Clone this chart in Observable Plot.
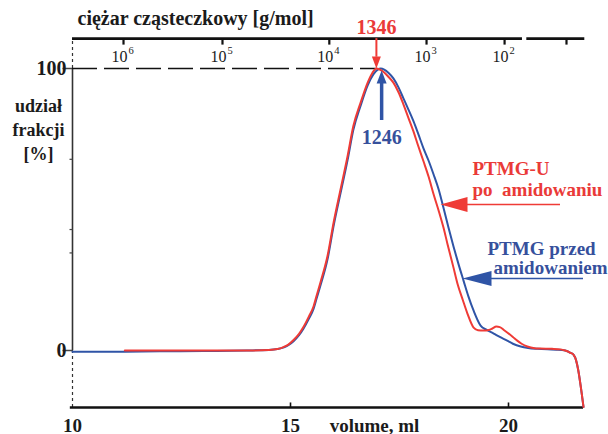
<!DOCTYPE html>
<html><head><meta charset="utf-8">
<script src="https://cdn.jsdelivr.net/npm/d3@7"></script>
<script src="https://cdn.jsdelivr.net/npm/@observablehq/plot@0.6"></script>
<style>body{margin:0;background:#fff}</style>
</head><body><div id="chart"></div>
<script>
// --- data ---
const blueVol = [10, 11.2, 12, 13, 14, 14.5, 14.7, 14.85, 14.95, 15.07, 15.2, 15.3, 15.42, 15.53, 15.6, 15.69, 15.85, 15.99, 16.15, 16.31, 16.44, 16.61, 16.77, 16.9, 17.0, 17.07, 17.15, 17.25, 17.36, 17.48, 17.59, 17.7, 17.82, 17.93, 18.05, 18.17, 18.28, 18.4, 18.51, 18.62, 18.74, 18.85, 18.97, 19.08, 19.2, 19.36, 19.5, 19.66, 19.8, 19.97, 20.1, 20.28, 20.45, 20.66, 20.9, 21.1, 21.3, 21.42, 21.49, 21.55, 21.6, 21.65, 21.69, 21.72];
const blueVal = [-0.4, -0.4, -0.3, -0.2, 0, 0.2, 0.5, 1.1, 1.9, 3.3, 5.5, 7.8, 11.2, 14.8, 18.5, 23.2, 32.4, 44.3, 56, 67.6, 78.2, 86.9, 94, 97.9, 99.6, 100, 99.6, 98.4, 96.5, 93.2, 89.4, 85.6, 81.3, 76.8, 71.7, 67.2, 62.5, 57, 50.5, 43.8, 36.8, 30.8, 24.7, 19.2, 14.1, 8.8, 7.3, 6.0, 4.8, 3.5, 2.4, 1.4, 0.9, 0.6, 0.4, 0.3, 0, -0.8, -1.5, -3.5, -7, -12, -16.5, -20];
const redVol = [11.2, 12, 13, 14, 14.5, 14.7, 14.85, 14.95, 15.07, 15.2, 15.3, 15.42, 15.53, 15.6, 15.69, 15.85, 15.99, 16.15, 16.31, 16.44, 16.61, 16.77, 16.88, 16.97, 17.05, 17.15, 17.25, 17.36, 17.48, 17.59, 17.7, 17.82, 17.93, 18.05, 18.17, 18.28, 18.4, 18.51, 18.6, 18.74, 18.83, 18.95, 19.06, 19.2, 19.3, 19.43, 19.55, 19.63, 19.72, 19.8, 19.9, 19.97, 20.1, 20.2, 20.3, 20.43, 20.6, 20.73, 21.0, 21.19, 21.3, 21.42, 21.49, 21.55, 21.6, 21.65, 21.69, 21.72];
const redVal = [0, 0, 0, 0, 0.2, 0.5, 1.3, 2.1, 3.7, 6, 8.4, 12, 15.7, 19.5, 24.3, 33.6, 45.5, 57.3, 69, 79.5, 88, 95, 98.5, 100, 99.6, 98.6, 97, 95, 91.5, 87.3, 82.7, 77.7, 72.5, 67.1, 61.5, 55.5, 49.5, 43.5, 37.8, 29.3, 23.7, 18, 13, 8.1, 7.2, 7.1, 7.3, 7.8, 8.5, 8.3, 7.2, 6.4, 4.8, 3.5, 2.4, 1.4, 0.8, 0.7, 0.6, 0.4, 0, -0.8, -1.5, -3.5, -7, -12, -16.5, -20];

const volumeTicks = [10, 15, 20];
const volumeLabels = ["10", "15", "20"];
const mwTickVol = [11.17, 13.44, 15.89, 18.12, 19.91, 21.33];
const mwLabelBase = ["10", "10", "10", "10", "10"];
const mwLabelExp = ["6", "5", "4", "3", "2"];
const yMajor = [0, 100];
const yMajorLabels = ["0", "100"];
const yMinor = [67.8, 42.9, 34.6];
const yTitle = ["udział", "frakcji", "[%]"];
const peakRed = {vol: 16.97, label: "1346"};
const peakBlue = {vol: 17.09, label: "1246"};
const seriesRed = ["PTMG-U", "po  amidowaniu"];
const seriesBlue = ["PTMG przed", "amidowaniem"];

// --- layout constants (frame) ---
const xMin = 10, xMax = 21.72, yTop = 110.6, yBot = -20.2;
const RED = "#ef3b36", BLUE = "#2f54a6", RED_T = "#ea3a38", BLUE_T = "#36509c", INK = "#1b1b1b";

const blue = blueVol.map((v, i) => ({v, y: blueVal[i]}));
const red = redVol.map((v, i) => ({v, y: redVal[i]}));

// custom symbols
const seg = (x1, y1, x2, y2) => ({draw(c) { c.moveTo(x1, y1); c.lineTo(x2, y2); }});
const headLeft = (len, hw) => ({draw(c) { c.moveTo(0, 0); c.lineTo(len, -hw); c.lineTo(len, hw); c.closePath(); }});
const headDown = (len, hw) => ({draw(c) { c.moveTo(0, 0); c.lineTo(-hw, -len); c.lineTo(hw, -len); c.closePath(); }});
const headUp = (len, hw) => ({draw(c) { c.moveTo(0, 0); c.lineTo(-hw, len); c.lineTo(hw, len); c.closePath(); }});

const px2v = (px) => xMin + (px - 72) / ((583 - 72) / (xMax - xMin));
const py2v = (py) => (350 - py) / 2.82;

const T = {fontFamily: "Liberation Serif", fontWeight: "bold"};

const chart = Plot.plot({
  width: 608,
  height: 434,
  x: {domain: [xMin, xMax], range: [72, 583], axis: null},
  y: {domain: [0, 100], range: [350, 68], axis: null},
  style: {fontFamily: "Liberation Serif", background: "white", overflow: "visible"},
  marks: [
    // frame / axes
    Plot.ruleX([xMin], {y1: 0, y2: 100, stroke: "#333", strokeWidth: 1.6}),
    Plot.ruleX([xMin], {y1: 100, y2: yTop, stroke: "#333", strokeWidth: 1.2, strokeDasharray: "3,3"}),
    Plot.ruleX([xMin], {y1: yBot, y2: 0, stroke: "#333", strokeWidth: 1.2, strokeDasharray: "3,3"}),
    Plot.ruleY([yBot], {x1: xMin - 0.05, x2: xMax, stroke: "#111", strokeWidth: 2.6}),
    Plot.ruleY([yTop], {x1: xMin, x2: 20.32, stroke: "#111", strokeWidth: 2.6}),
    Plot.ruleY([yTop], {x1: 20.42, x2: xMax + 0.03, stroke: "#111", strokeWidth: 2.6}),
    Plot.dot(volumeTicks.slice(1), {x: d => d, y: yBot, symbol: seg(0, 0, 0, -5), stroke: "#111", strokeWidth: 1.6, fill: "none"}),
    Plot.dot(mwTickVol, {x: d => d, y: yTop, symbol: seg(0, 0, 0, 6), stroke: "#111", strokeWidth: 2.2, fill: "none"}),
    Plot.dot(yMajor, {x: xMin, y: d => d, symbol: seg(0, 0, -10, 0), stroke: "#444", strokeWidth: 1.5, fill: "none"}),
    Plot.dot(yMinor, {x: xMin, y: d => d, symbol: seg(0, 0, -3, 0), stroke: "#444", strokeWidth: 1.2, fill: "none"}),
    // dashed 100% reference
    Plot.ruleY([100], {x1: xMin, x2: peakRed.vol, stroke: "#111", strokeWidth: 1.5, strokeDasharray: "25,7"}),

    // curves
    Plot.line(blue, {x: "v", y: "y", stroke: BLUE, strokeWidth: 2, curve: "monotone-x"}),
    Plot.line(red, {x: "v", y: "y", stroke: RED, strokeWidth: 2, curve: "monotone-x"}),

    // peak arrows
    Plot.ruleX([peakRed.vol], {y1: yTop, y2: 104, stroke: RED, strokeWidth: 2}),
    Plot.dot([peakRed], {x: "vol", y: 100, symbol: headDown(12, 4.5), fill: RED, stroke: "none"}),
    Plot.text([peakRed], {x: "vol", y: py2v(27), text: "label", fill: RED_T, fontSize: 20, ...T}),
    Plot.ruleX([peakBlue.vol], {y1: py2v(120), y2: 96, stroke: BLUE, strokeWidth: 3.5}),
    Plot.dot([peakBlue], {x: "vol", y: py2v(70), symbol: headUp(13, 5), fill: BLUE, stroke: "none"}),
    Plot.text([peakBlue], {x: "vol", y: py2v(137), text: "label", fill: BLUE_T, fontSize: 20, ...T}),

    // series labels with arrows
    Plot.text(seriesRed, {x: px2v(472), y: (d, i) => py2v(168 + i * 21), text: d => d, textAnchor: "start", fill: RED_T, fontSize: 19, ...T}),
    Plot.ruleY([py2v(204)], {x1: px2v(462), x2: px2v(560), stroke: RED, strokeWidth: 1.6}),
    Plot.dot([py2v(204)], {x: px2v(440), y: d => d, symbol: headLeft(27, 7.5), fill: RED, stroke: "none"}),
    Plot.text(seriesBlue, {x: (d, i) => px2v(i ? 493 : 487), y: (d, i) => py2v(248 + i * 19), text: d => d, textAnchor: "start", fill: BLUE_T, fontSize: 19, ...T}),
    Plot.ruleY([py2v(278)], {x1: px2v(485), x2: px2v(583), stroke: BLUE, strokeWidth: 1.6}),
    Plot.dot([py2v(278)], {x: px2v(462), y: d => d, symbol: headLeft(29, 7.5), fill: BLUE, stroke: "none"}),

    // axis texts
    Plot.text(volumeTicks, {x: d => d, y: yBot, dy: 18, text: (d, i) => volumeLabels[i], fill: INK, fontSize: 19, ...T}),
    Plot.text(["volume, ml"], {x: px2v(374), y: yBot, dy: 18, text: d => d, fill: INK, fontSize: 19, ...T}),
    Plot.text(mwLabelBase, {x: (d, i) => mwTickVol[i], y: yTop, dy: 18, dx: 4, text: d => d, textAnchor: "end", fill: INK, fontSize: 16, fontFamily: "Liberation Serif"}),
    Plot.text(mwLabelExp, {x: (d, i) => mwTickVol[i], y: yTop, dy: 12, dx: 5, text: d => d, textAnchor: "start", fill: INK, fontSize: 10.5, fontFamily: "Liberation Serif"}),
    Plot.text(["ciężar cząsteczkowy [g/mol]"], {x: px2v(77), y: py2v(18), text: d => d, textAnchor: "start", fill: INK, fontSize: 20, ...T}),
    Plot.text(yMajor, {x: xMin, y: d => d, dx: -6, text: (d, i) => yMajorLabels[i], textAnchor: "end", fill: INK, fontSize: 20, ...T}),
    Plot.text(yTitle, {x: px2v(38), y: (d, i) => py2v(106 + i * 24), text: d => d, fill: INK, fontSize: 18, ...T})
  ]
});
document.getElementById("chart").appendChild(chart);
</script>
</body></html>
